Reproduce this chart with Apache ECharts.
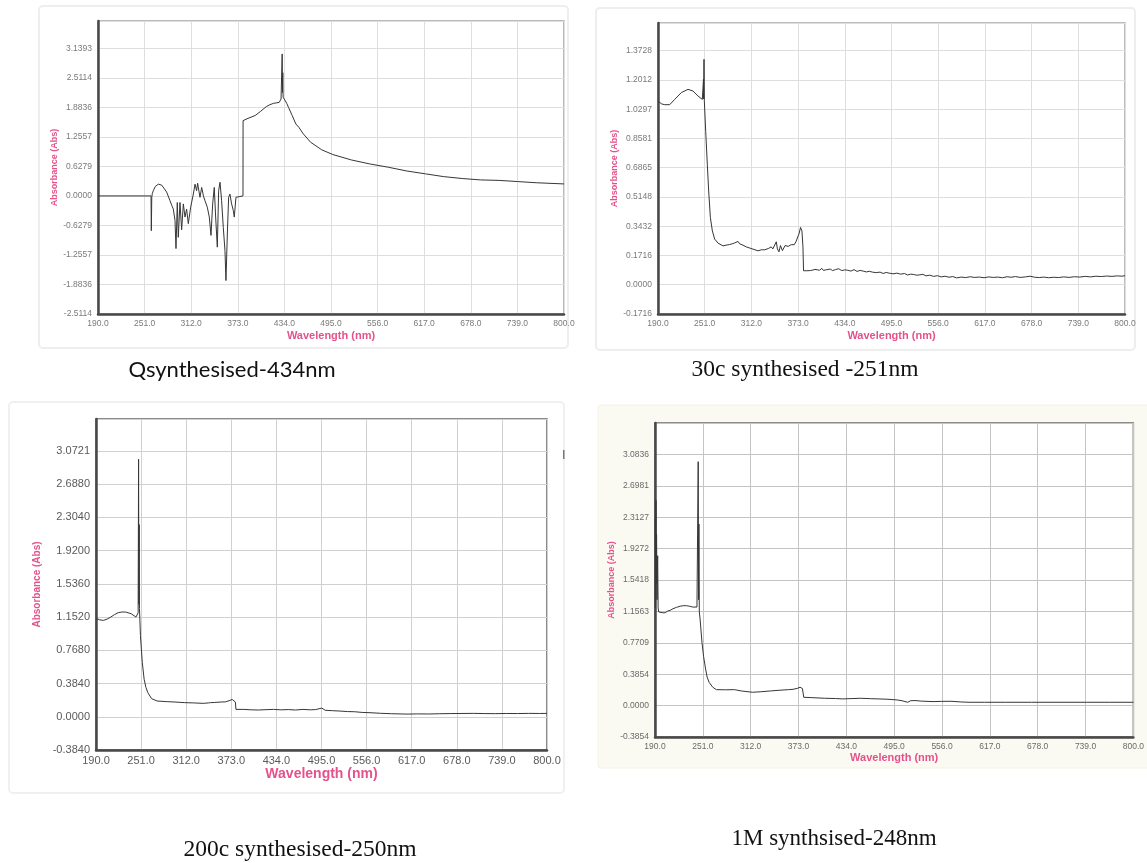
<!DOCTYPE html>
<html>
<head>
<meta charset="utf-8">
<title>UV-Vis spectra</title>
<script src="https://cdn.jsdelivr.net/npm/echarts@6/dist/echarts.min.js"></script>
<style>
  html, body { margin: 0; padding: 0; background: #fff; }
  #main { width: 1147px; height: 863px; }
</style>
</head>
<body>
<div id="main"></div>
<script>
// wavelength tick labels, same on all four plots
var xTickLabels = ['190.0','251.0','312.0','373.0','434.0','495.0','556.0','617.0','678.0','739.0','800.0'];

// ---- Qsynthesised-434nm
var yTicks1 = ['-2.5114','-1.8836','-1.2557','-0.6279','0.0000','0.6279','1.2557','1.8836','2.5114','3.1393'];
var wl1 = [190,259.4,259.8,260.4,261.1,262.4,265,269,273.3,277,279.9,284.2,286.5,288.6,290.8,292.1,293.8,295.1,297.3,299.5,
  301.7,303.9,306,308.2,311.3,314.8,317,319.1,320.4,323.5,325.7,328,330,333.1,335.7,337.9,340.1,342.2,344,346.2,
  347.9,349.7,351.8,354,356.2,357.5,359.3,361,362.7,364.9,367.1,368.4,370.6,372.3,379.8,379.9,385,395.7,403,410.3,
  415,419.9,424,427.2,429.6,430.8,431.1,431.5,431.9,432.3,434.5,437,439.3,444.2,449,450.4,452.9,458.7,468.4,482.9,
  497.4,521.6,545.8,570,594.2,618.4,642.6,666.8,691,715.2,739.4,763.6,800];
var abs1 = [0,0,-0.74,-0.03,0.05,0.11,0.2,0.25,0.23,0.15,0.08,-0.10,-0.2,-0.28,-0.52,-1.12,-0.14,-0.88,-0.14,-0.72,
  -0.17,-0.45,-0.28,-0.59,-0.24,0.04,0.25,0.11,0.27,-0.03,0.18,0.0,-0.10,-0.24,-0.45,-0.84,-0.17,0.18,-0.45,-1.09,
  0.11,0.29,-0.10,-0.67,-1.16,-1.80,-0.81,-0.03,0.04,-0.17,-0.31,-0.45,-0.03,0,0,1.60,1.64,1.71,1.80,1.90,
  1.94,1.97,1.98,1.99,2.06,2.1,3.02,2.2,2.62,2.1,2.04,1.97,1.885,1.71,1.53,1.56,1.46,1.32,1.14,0.98,
  0.88,0.765,0.68,0.61,0.53,0.47,0.41,0.37,0.34,0.33,0.305,0.28,0.255];

// ---- 30c synthesised -251nm
var yTicks2 = ['-0.1716','0.0000','0.1716','0.3432','0.5148','0.6865','0.8581','1.0297','1.2012','1.3728'];
var wl2 = [190.5,192.2,195,198.8,205.3,211.8,220.5,229.2,235.7,242.2,247.9,249.2,249.4,249.6,250.1,250.5,250.9,252.3,254.4,256.2,
  258.4,261,264,268.4,274.9,279,283.6,287,290.1,294.5,296.6,301,305.3,310,314,320.6,325,329.3,334,337.9,
  340,342.3,344.5,346,348,350,351,352.5,354,356,357.5,360,361.9,364,366.2,368,370.6,372.5,374.1,376.2,
  378,379.3,380.1,383.6,386,389,392.3,395,397,401,404,406,410,415,418,422,426,430,434,438,
  442,446,450,454,458,462,466,470,475,480,484,488,492,497,502,507,512,516,520,524,
  528,532,536,540,545,550,555,560,565,570,575,580,586,592,598,603,610,616,622,628,
  634,640,646,651,657,663,670,676,682,688,694,700,707,713,720,727,734,741,748,755,
  762,769,776,783,790,796,800];
var abs2 = [1.075,1.069,1.06,1.056,1.056,1.087,1.127,1.146,1.136,1.107,1.087,1.08,1.205,1.09,1.322,1.08,1.075,0.90,0.707,0.55,
  0.394,0.316,0.268,0.244,0.228,0.232,0.236,0.24,0.245,0.254,0.24,0.232,0.222,0.215,0.209,0.199,0.205,0.205,0.212,0.222,
  0.21,0.199,0.252,0.21,0.193,0.23,0.24,0.2,0.199,0.23,0.24,0.225,0.228,0.235,0.226,0.235,0.256,0.28,0.297,0.336,
  0.316,0.226,0.082,0.082,0.088,0.083,0.086,0.09,0.082,0.085,0.096,0.084,0.088,0.092,0.083,0.089,0.094,0.083,0.087,0.085,
  0.08,0.089,0.078,0.084,0.08,0.075,0.079,0.074,0.071,0.074,0.066,0.072,0.068,0.064,0.068,0.062,0.066,0.057,0.062,0.06,
  0.056,0.058,0.061,0.052,0.056,0.049,0.053,0.046,0.05,0.044,0.048,0.04,0.045,0.042,0.047,0.043,0.045,0.041,0.046,0.043,
  0.045,0.041,0.047,0.044,0.048,0.043,0.046,0.05,0.044,0.042,0.045,0.041,0.044,0.042,0.046,0.043,0.047,0.045,0.049,0.046,
  0.05,0.048,0.051,0.049,0.052,0.05,0.053];

// ---- 200c synthesised-250nm
var yTicks3 = ['-0.3840','0.0000','0.3840','0.7680','1.1520','1.5360','1.9200','2.3040','2.6880','3.0721'];
var wl3 = [190.5,195,200,205,210,215,220,225,230,237.6,244,246,247,247.6,248,248.4,248.8,250.1,252.6,255.1,
  257.5,260.1,265.1,272.6,285,297,310,322,335,342,345,347,350,355,360,365,370,374.3,376.5,378.5,
  379.3,390,400,410,420,430,440,450,460,470,480,487,495.5,500,510,520,530,540,550,560.6,
  575,590,610.7,625,640,655,670,685,700.8,715,730,745,760,775,790,800];
var abs3 = [1.133,1.12,1.113,1.128,1.152,1.18,1.2025,1.21,1.21,1.19,1.152,1.16,1.2,2.975,1.3,2.22,1.25,0.939,0.628,0.434,
  0.34,0.279,0.21,0.182,0.175,0.17,0.163,0.16,0.155,0.16,0.163,0.15,0.165,0.168,0.171,0.172,0.185,0.2,0.19,0.17,
  0.085,0.085,0.08,0.078,0.082,0.085,0.08,0.083,0.078,0.085,0.08,0.083,0.1,0.075,0.07,0.066,0.06,0.058,0.05,0.047,
  0.04,0.035,0.031,0.033,0.032,0.035,0.037,0.038,0.039,0.037,0.036,0.038,0.037,0.039,0.038,0.039];

// ---- 1M synthsised-248nm
var yTicks4 = ['-0.3854','0.0000','0.3854','0.7709','1.1563','1.5418','1.9272','2.3127','2.6981','3.0836'];
var wl4 = [190.3,190.5,190.8,191.2,191.6,192,192.6,193.4,194,194.7,196.8,200,203,206,209.3,213,217.6,222,226,230,
  234.3,238,240.5,243.5,244.4,245.1,245.6,246,246.5,247.5,249.9,252,254.5,256.5,259,263.7,268.3,280,291.3,300,
  314.3,325,337.3,348,360.3,366,371.9,375,378,378.8,379.7,390,406.4,420,429.4,440,452.4,465,475.5,487,
  498.5,505,512.3,516,521.5,530,544.5,555,567.5,580,590.5,610,636.6,670,700,740,770,800];
var abs4 = [1.20,2.3,1.35,2.52,1.5,2.1,1.3,1.84,1.2,1.15,1.145,1.14,1.14,1.16,1.17,1.19,1.207,1.22,1.227,1.227,
  1.22,1.21,1.20,1.21,1.2,2.995,1.3,2.23,1.15,1.064,0.777,0.6,0.45,0.35,0.286,0.225,0.196,0.194,0.196,0.18,
  0.164,0.17,0.18,0.188,0.196,0.2,0.213,0.225,0.21,0.196,0.102,0.098,0.09,0.087,0.082,0.086,0.09,0.085,0.082,0.078,
  0.07,0.06,0.041,0.06,0.062,0.055,0.049,0.052,0.053,0.045,0.041,0.041,0.041,0.041,0.041,0.041,0.041,0.041];

// panel boxes (px) and y-axis ranges
var panels = [
  { wl: wl1, abs: abs1, ticks: yTicks1, min: -2.5114, step: 0.62785, max: 3.72,
    left: 98, top: 21, width: 466, height: 293, border: '#a4a4a4', grid: '#dedede',
    lblSize: 8.5, lblColor: '#7a7a7a', xTitle: 11, yTitle: 9, yGap: 39, xGap: 16 },
  { wl: wl2, abs: abs2, ticks: yTicks2, min: -0.1716, step: 0.1716, max: 1.535,
    left: 658, top: 23, width: 467, height: 291, border: '#a8a8a8', grid: '#dedede',
    lblSize: 8.5, lblColor: '#7a7a7a', xTitle: 11, yTitle: 9, yGap: 39, xGap: 16 },
  { wl: wl3, abs: abs3, ticks: yTicks3, min: -0.384, step: 0.384, max: 3.44,
    left: 96, top: 419, width: 451, height: 331, border: '#666', grid: '#d0d0d0',
    lblSize: 11, lblColor: '#5a5a5a', xTitle: 14, yTitle: 10, yGap: 54, xGap: 16 },
  { wl: wl4, abs: abs4, ticks: yTicks4, min: -0.38545, step: 0.38545, max: 3.47,
    left: 655, top: 423, width: 487, height: 314, border: '#6a6a6a', grid: '#c4c4c4',
    lblSize: 8.5, lblColor: '#6a6a6a', xTitle: 11, yTitle: 9, yGap: 37, xGap: 15 }
];

var pink = '#e4528c';
var grids = [], xAxes = [], yAxes = [], series = [];

for (var p = 0; p < panels.length; p++) {
  var c = panels[p];
  grids.push({ left: c.left, top: c.top, width: c.width, height: c.height,
    show: true, borderColor: c.border, borderWidth: 1.5, backgroundColor: '#fff' });

  xAxes.push({
    gridIndex: p, type: 'value', min: 0, max: 610, interval: 61,
    name: 'Wavelength (nm)', nameLocation: 'middle', nameGap: c.xGap,
    nameTextStyle: { color: pink, fontSize: c.xTitle, fontWeight: 'bold', fontFamily: 'Liberation Sans' },
    axisLine: { onZero: false, lineStyle: { color: '#484848', width: 2.5 } },
    axisTick: { show: false },
    axisLabel: { fontSize: c.lblSize, color: c.lblColor, margin: 5, fontFamily: 'Liberation Sans',
      formatter: function (v) { return xTickLabels[Math.round(v / 61)] || ''; } },
    splitLine: { show: true, lineStyle: { color: c.grid, width: 1 } }
  });

  yAxes.push({
    gridIndex: p, type: 'value', min: c.min, max: c.max, interval: c.step,
    name: 'Absorbance (Abs)', nameLocation: 'middle', nameGap: c.yGap,
    nameTextStyle: { color: pink, fontSize: c.yTitle, fontWeight: 'bold', fontFamily: 'Liberation Sans' },
    axisLine: { onZero: false, lineStyle: { color: '#484848', width: 2.5 } },
    axisTick: { show: false },
    axisLabel: { fontSize: c.lblSize, color: c.lblColor, margin: 6, fontFamily: 'Liberation Sans',
      formatter: (function (cc) {
        return function (v) {
          var i = Math.round((v - cc.min) / cc.step);
          if (Math.abs(cc.min + i * cc.step - v) > cc.step * 0.05) return '';
          return cc.ticks[i] || '';
        };
      })(c) },
    splitLine: { show: true, lineStyle: { color: c.grid, width: 1 } }
  });

  var pts = [];
  for (var i = 0; i < c.wl.length; i++) pts.push([c.wl[i] - 190, c.abs[i]]);
  series.push({
    type: 'line', xAxisIndex: p, yAxisIndex: p, data: pts,
    showSymbol: false, silent: true, animation: false,
    lineStyle: { color: '#363636', width: 1 }
  });
}

// faint picture frames + captions
var graphic = [
  { type: 'rect', z: -10, shape: { x: 39, y: 6, width: 529, height: 342, r: 4 },
    style: { fill: '#fff', stroke: '#eeeeee', lineWidth: 2 } },
  { type: 'rect', z: -10, shape: { x: 596, y: 8, width: 539, height: 342, r: 4 },
    style: { fill: '#fff', stroke: '#eeeeee', lineWidth: 2 } },
  { type: 'rect', z: -10, shape: { x: 9, y: 402, width: 555, height: 391, r: 4 },
    style: { fill: '#fff', stroke: '#f0f0f0', lineWidth: 2 } },
  { type: 'rect', z: -10, shape: { x: 598, y: 405, width: 560, height: 363, r: 3 },
    style: { fill: '#fbfaf2', stroke: '#f3f1e6', lineWidth: 1 } },
  { type: 'rect', z: 5, shape: { x: 563, y: 450, width: 1.5, height: 9 }, style: { fill: '#777' } },
  { type: 'text', z: 5, style: { text: 'Qsynthesised-434nm', x: 232, y: 370, textAlign: 'center', textVerticalAlign: 'middle',
      align: 'center', verticalAlign: 'middle', font: '22px Lato', fill: '#111' } },
  { type: 'text', z: 5, style: { text: '30c synthesised -251nm', x: 805, y: 370, textAlign: 'center', textVerticalAlign: 'middle',
      align: 'center', verticalAlign: 'middle', font: '23.5px "Liberation Serif"', fill: '#111' } },
  { type: 'text', z: 5, style: { text: '200c synthesised-250nm', x: 300, y: 850, textAlign: 'center', textVerticalAlign: 'middle',
      align: 'center', verticalAlign: 'middle', font: '23.5px "Liberation Serif"', fill: '#111' } },
  { type: 'text', z: 5, style: { text: '1M synthsised-248nm', x: 834, y: 839, textAlign: 'center', textVerticalAlign: 'middle',
      align: 'center', verticalAlign: 'middle', font: '23px "Liberation Serif"', fill: '#111' } }
];

var myChart = echarts.init(document.getElementById('main'));
var option = {
  backgroundColor: '#fff',
  animation: false,
  grid: grids,
  xAxis: xAxes,
  yAxis: yAxes,
  series: series,
  graphic: graphic
};
myChart.setOption(option);
</script>
</body>
</html>
